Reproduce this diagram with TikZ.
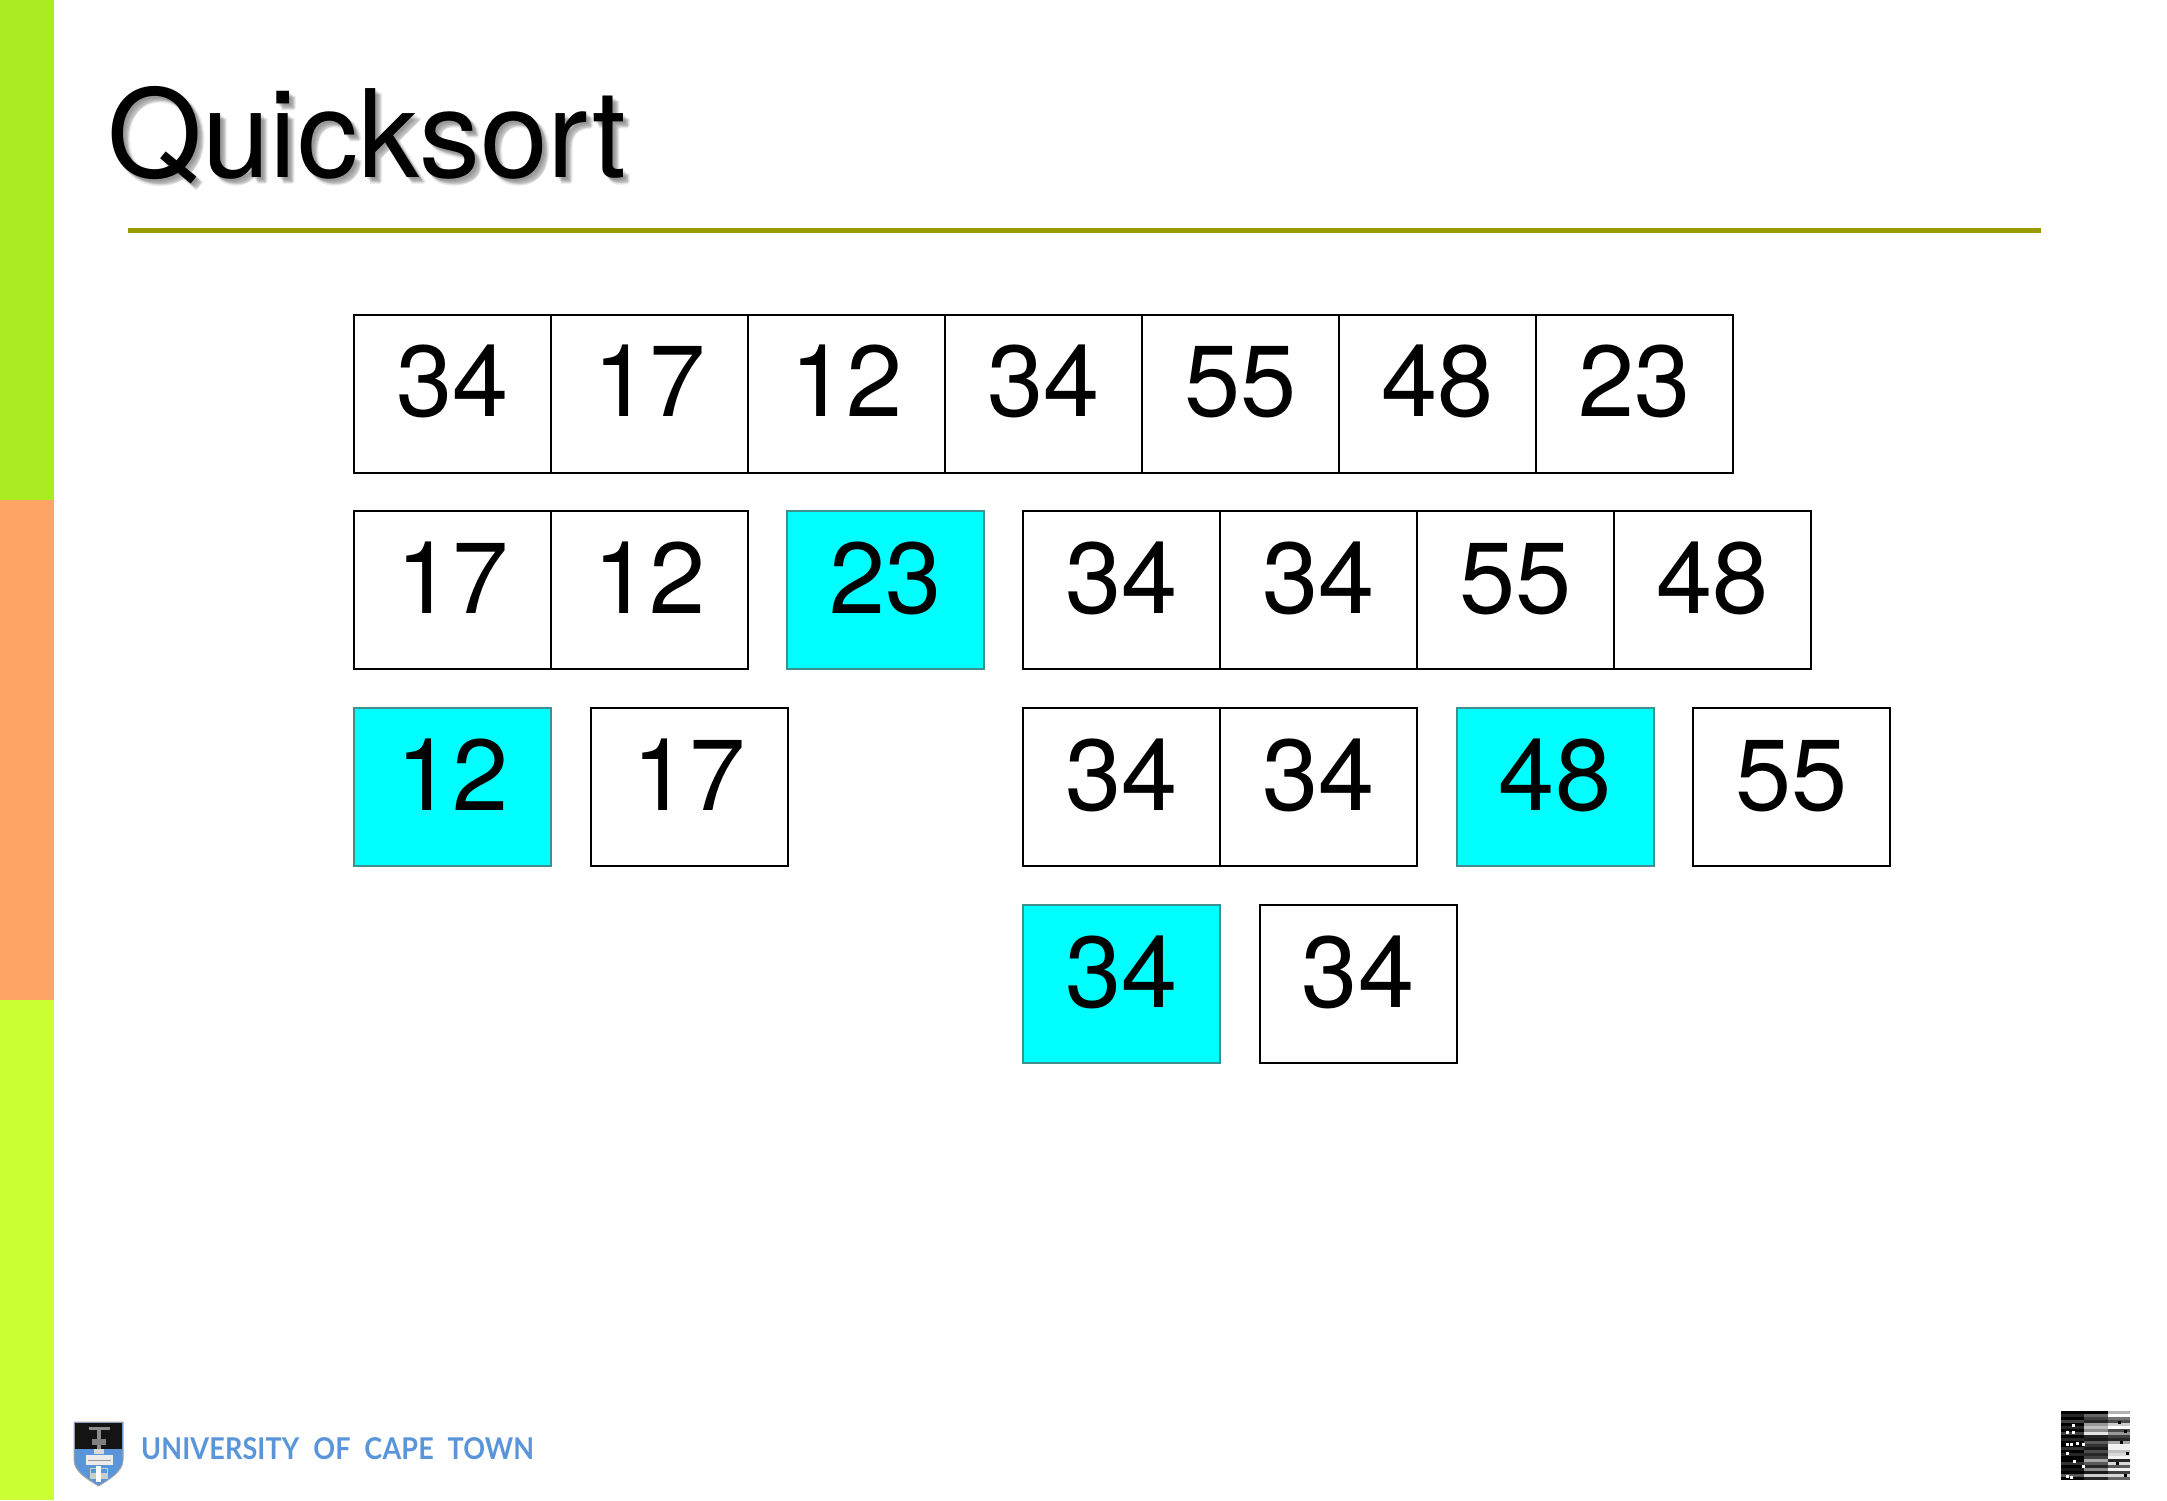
\documentclass[tikz,border=0pt]{standalone}
\usepackage{fontspec}
\setmainfont{TeX Gyre Heros}
\newfontfamily\uctfont[LetterSpace=0.5]{Lato Bold}
\definecolor{barA}{HTML}{A9EC21}
\definecolor{barB}{HTML}{FFA666}
\definecolor{barC}{HTML}{CCFF33}
\definecolor{ruleC}{HTML}{999900}
\definecolor{uctblue}{HTML}{5A95DA}
\definecolor{pivotedge}{HTML}{3F8F8F}
\definecolor{pivotfill}{HTML}{00FFFF}
\tikzset{
  cellbox/.style={draw=black,line width=2pt,fill=white,inner sep=0pt,outer sep=0pt,
    minimum width=197pt,text height=102pt,text depth=56pt,
    font=\fontsize{101}{120}\selectfont},
  pivot/.style={cellbox,draw=pivotedge,fill=pivotfill},
  titletext/.style={inner sep=0pt,anchor=base west,font=\fontsize{122}{130}\selectfont},
  titleshade/.style={titletext,text=black,text opacity=0.07},
}
\begin{document}
\begin{tikzpicture}[x=1pt,y=-1pt]
\useasboundingbox (0,0) rectangle (2167,1500);
% side bar
\fill[barA] (0,0) rectangle (54,500);
\fill[barB] (0,500) rectangle (54,1000);
\fill[barC] (0,1000) rectangle (54,1500);
% title
\foreach \dx/\dy in {2/2,3/3,4/4,5/5,6/6,7/5,5/7}{
  \node[titleshade] at ({107+\dx},{177+\dy}) {Quicksort};
}
\node[titletext] (title) at (107,177) {Quicksort};
\fill[ruleC] (128,228) rectangle (2041,232.5);
% row 1
\node[cellbox] (a1) at (452.5,393.5) {34};
\node[cellbox] (a2) at (649.5,393.5) {17};
\node[cellbox] (a3) at (846.5,393.5) {12};
\node[cellbox] (a4) at (1043.5,393.5) {34};
\node[cellbox] (a5) at (1240.5,393.5) {55};
\node[cellbox] (a6) at (1437.5,393.5) {48};
\node[cellbox] (a7) at (1634.5,393.5) {23};
% row 2
\node[cellbox] (b1) at (452.5,590) {17};
\node[cellbox] (b2) at (649.5,590) {12};
\node[pivot] (b3) at (885.5,590) {23};
\node[cellbox] (b4) at (1121.5,590) {34};
\node[cellbox] (b5) at (1318.5,590) {34};
\node[cellbox] (b6) at (1515.5,590) {55};
\node[cellbox] (b7) at (1712.5,590) {48};
% row 3
\node[pivot] (c1) at (452.5,787) {12};
\node[cellbox] (c2) at (689,787) {17};
\node[cellbox] (c3) at (1121.5,787) {34};
\node[cellbox] (c4) at (1318.5,787) {34};
\node[pivot] (c5) at (1555,787) {48};
\node[cellbox] (c6) at (1791.5,787) {55};
% row 4
\node[pivot] (d1) at (1121.5,984) {34};
\node[cellbox] (d2) at (1358,984) {34};
% logo shield
\path[fill=uctblue,draw=black!35,line width=1pt] (74,1422) -- (123,1422) -- (123,1460)
  .. controls (123,1472) and (108,1480) .. (98.5,1486)
  .. controls (89,1480) and (74,1472) .. (74,1460) -- cycle;
\fill[black!92] (75,1423) rectangle (122,1449);
\fill[black!45] (89,1427) rectangle (110,1430);
\fill[black!45] (97,1430) rectangle (101,1449);
\fill[black!50] (92,1439) rectangle (106,1445);
\fill[black!15] (94,1449) rectangle (104,1454);
\fill[black!8] (86,1455) rectangle (113,1465);
\fill[black!40] (88,1459.5) rectangle (111,1460.5);
\fill[black!20] (90,1468) rectangle (108,1479);
\fill[uctblue] (91,1469) rectangle (97,1473);
\fill[uctblue] (101,1469) rectangle (107,1473);
\fill[white] (96,1466) rectangle (101,1482);
% logo text
\node[inner sep=0pt,anchor=base west,text=uctblue,xscale=0.9] (uct) at (141,1459)
  {\uctfont\fontsize{30}{34}\selectfont UNIVERSITY\hspace{8pt} OF\hspace{8pt} CAPE\hspace{8pt} TOWN};
% bottom-right thumbnail
\foreach \i/\l/\m/\r in {
 0/100/100/30, 1/85/60/0, 2/100/75/55, 3/75/85/70, 4/100/40/20, 5/85/25/0, 6/100/45/70,
 7/75/10/40, 8/100/85/75, 9/85/90/85, 10/100/65/35, 11/100/80/5, 12/80/90/5,
 13/100/70/25, 14/85/85/15, 15/100/75/5, 16/100/35/85, 17/80/65/15, 18/100/85/65,
 19/90/45/5, 20/100/90/75, 21/65/20/15, 22/100/85/60}{
  \fill[black!\l] (2061,{1411+3*\i}) rectangle (2084,{1414+3*\i});
  \fill[black!\m] (2084,{1411+3*\i}) rectangle (2108,{1414+3*\i});
  \fill[black!\r] (2108,{1411+3*\i}) rectangle (2130,{1414+3*\i});
}
\foreach \px/\py in {2066/1431,2072/1431,2066/1443,2070/1443,2076/1442,2082/1443,2066/1452,
 2072/1424,2073/1460,2082/1465,2066/1475,2070/1476}{
  \fill[white] (\px,\py) rectangle ++(3,3);
}
\foreach \px/\py in {2118/1421,2120/1441,2116/1462,2124/1430,2126/1452,2124/1474}{
  \fill[black] (\px,\py) rectangle ++(3,3);
}
\end{tikzpicture}
\end{document}
